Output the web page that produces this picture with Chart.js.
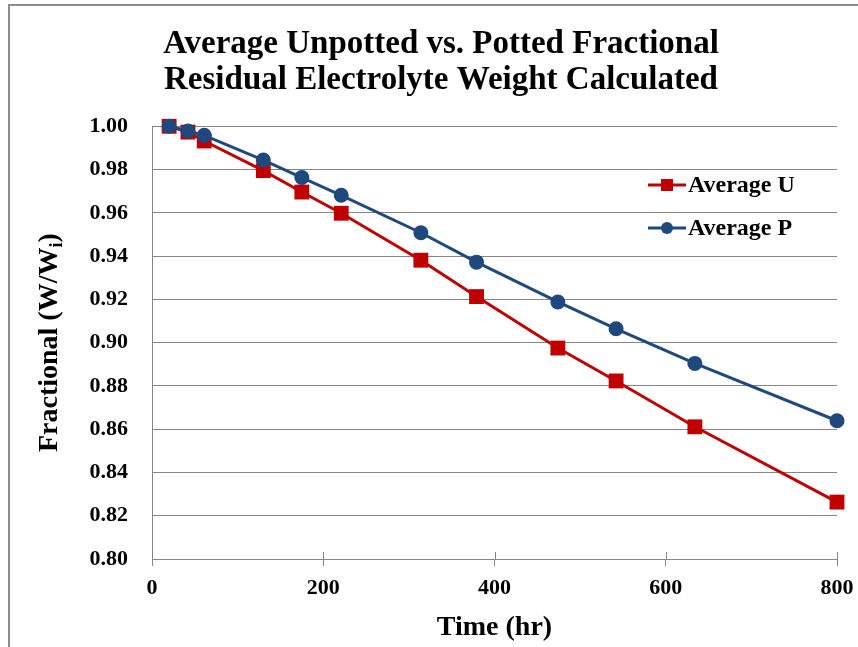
<!DOCTYPE html>
<html>
<head>
<meta charset="utf-8">
<script src="https://cdn.jsdelivr.net/npm/chart.js@4/dist/chart.umd.min.js"></script>
<style>
    html, body { margin: 0; padding: 0; background: #ffffff; }
    #wrap { width: 858px; height: 647px; position: relative; }
</style>
</head>
<body>
<div id="wrap"><canvas id="weightChart" width="858" height="647"></canvas></div>
<script>
// Time in hours, shared by both series
const hours = [20, 42, 61, 130, 175, 221, 314, 379, 474, 542, 634, 800];

// Fractional residual weight (W/Wi)
const averageU = [1.000, 0.9973, 0.9932, 0.9795, 0.9696, 0.9598, 0.9381, 0.9213, 0.8975, 0.8823, 0.8611, 0.8263];
const averageP = [1.000, 0.9978, 0.9958, 0.9844, 0.9763, 0.9681, 0.9508, 0.9372, 0.9188, 0.9064, 0.8904, 0.8639];

const seriesNames = ["Average U", "Average P"];
const xTicks = [0, 200, 400, 600, 800];
const yTicks = [0.80, 0.82, 0.84, 0.86, 0.88, 0.90, 0.92, 0.94, 0.96, 0.98, 1.00];

const titleLines = ["Average Unpotted vs. Potted Fractional", "Residual Electrolyte Weight Calculated"];
const xTitle = "Time (hr)";
const yTitle = ["Fractional (W/W", "i", ")"];

const SERIF = "'Liberation Serif', 'Times New Roman', serif";
const GRID = "#868686";
const RED = "#C00000";
const BLUE = "#1F497D";

function toPoints(xs, ys) {
    return xs.map((x, i) => ({ x: x, y: ys[i] }));
}

// outer frame, rotated y title with subscript, legend and the upper half of the x ticks
const extras = {
    id: "extras",
    beforeDraw(chart) {
        const ctx = chart.ctx;
        ctx.save();
        ctx.strokeStyle = "#8c8c8c";
        ctx.lineWidth = 2;
        ctx.beginPath();
        ctx.moveTo(9, 647);
        ctx.lineTo(9, 5);
        ctx.lineTo(858, 5);
        ctx.stroke();
        ctx.restore();
    },
    afterDraw(chart) {
        const ctx = chart.ctx;
        const area = chart.chartArea;

        // x ticks cross the axis line
        const xs = chart.scales.x;
        ctx.save();
        ctx.strokeStyle = GRID;
        ctx.lineWidth = 1;
        xs.ticks.forEach(t => {
            const px = Math.round(xs.getPixelForValue(t.value)) + 0.5;
            ctx.beginPath();
            ctx.moveTo(px, area.bottom - 7);
            ctx.lineTo(px, area.bottom);
            ctx.stroke();
        });
        ctx.restore();

        // y axis title, W with subscript i
        ctx.save();
        ctx.translate(47, (area.top + area.bottom) / 2);
        ctx.rotate(-Math.PI / 2);
        ctx.fillStyle = "#000000";
        ctx.textBaseline = "alphabetic";
        const big = "bold 28px " + SERIF;
        const small = "bold 18px " + SERIF;
        ctx.font = big;
        const w0 = ctx.measureText(yTitle[0]).width;
        const w2 = ctx.measureText(yTitle[2]).width;
        ctx.font = small;
        const w1 = ctx.measureText(yTitle[1]).width;
        let x = -(w0 + w1 + w2) / 2;
        const base = 10;
        ctx.font = big;
        ctx.fillText(yTitle[0], x, base);
        x += w0;
        ctx.font = small;
        ctx.fillText(yTitle[1], x, base + 5);
        x += w1;
        ctx.font = big;
        ctx.fillText(yTitle[2], x, base);
        ctx.restore();

        // legend
        ctx.save();
        chart.data.datasets.forEach((ds, i) => {
            const cy = 185 + i * 43;
            ctx.strokeStyle = ds.borderColor;
            ctx.lineWidth = 3;
            ctx.beginPath();
            ctx.moveTo(648, cy);
            ctx.lineTo(686, cy);
            ctx.stroke();
            ctx.fillStyle = ds.backgroundColor;
            if (ds.pointStyle === "rect") {
                ctx.fillRect(661, cy - 6, 12, 12);
            } else {
                ctx.beginPath();
                ctx.arc(667, cy, 6, 0, Math.PI * 2);
                ctx.fill();
            }
            ctx.fillStyle = "#000000";
            ctx.font = "bold 24px " + SERIF;
            ctx.textBaseline = "middle";
            ctx.fillText(ds.label, 688, cy + 1);
        });
        ctx.restore();
    }
};

function initChart() {
    const ctx = document.getElementById("weightChart");

    new Chart(ctx, {
        type: "line",
        data: {
            datasets: [{
                label: seriesNames[0],
                data: toPoints(hours, averageU),
                borderColor: RED,
                backgroundColor: RED,
                borderWidth: 3,
                pointStyle: "rect",
                pointRadius: 10.5,
                pointBorderWidth: 0,
                tension: 0,
                clip: false,
                order: 2
            }, {
                label: seriesNames[1],
                data: toPoints(hours, averageP),
                borderColor: BLUE,
                backgroundColor: BLUE,
                borderWidth: 3,
                pointStyle: "circle",
                pointRadius: 7.5,
                pointBorderWidth: 0,
                tension: 0,
                clip: false,
                order: 1
            }]
        },
        options: {
            responsive: false,
            animation: false,
            layout: { padding: { left: 45, right: 21, top: 0, bottom: 0 } },
            plugins: {
                legend: { display: false },
                tooltip: { enabled: false },
                title: {
                    display: true,
                    text: titleLines,
                    color: "#000000",
                    font: { family: SERIF, size: 33, weight: "bold", lineHeight: 1.08 },
                    padding: { top: 27, bottom: 28 }
                }
            },
            scales: {
                x: {
                    type: "linear",
                    min: 0,
                    max: 800,
                    afterBuildTicks: s => { s.ticks = xTicks.map(v => ({ value: v })); },
                    afterFit: s => {
                        s.height = 88;
                        // keep the plot width fixed; the end labels fit in the margins
                        s.paddingLeft = 0;
                        s.paddingRight = 0;
                    },
                    border: { display: true, color: GRID, width: 1 },
                    grid: { drawOnChartArea: false, color: GRID, tickLength: 7 },
                    ticks: {
                        color: "#000000",
                        padding: 9,
                        maxRotation: 0,
                        font: { family: SERIF, size: 22, weight: "bold" }
                    },
                    title: {
                        display: true,
                        text: xTitle,
                        color: "#000000",
                        font: { family: SERIF, size: 28, weight: "bold", lineHeight: 1.2 },
                        padding: { top: 0, bottom: 2 }
                    }
                },
                y: {
                    min: 0.8,
                    max: 1.0,
                    afterBuildTicks: s => { s.ticks = yTicks.map(v => ({ value: v })); },
                    afterFit: s => { s.width = 107; },
                    border: { display: true, color: GRID, width: 1 },
                    grid: { color: GRID, drawTicks: false },
                    ticks: {
                        color: "#000000",
                        padding: 24,
                        callback: v => Number(v).toFixed(2),
                        font: { family: SERIF, size: 22, weight: "bold" }
                    }
                }
            }
        },
        plugins: [extras]
    });
}

window.onload = initChart;
</script>
</body>
</html>
